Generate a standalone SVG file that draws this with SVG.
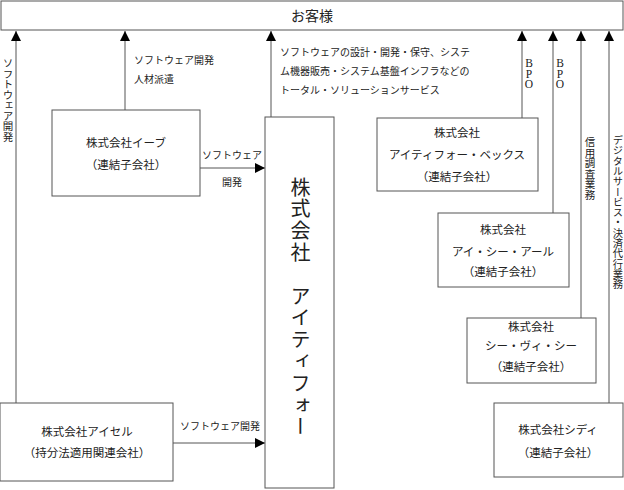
<svg xmlns="http://www.w3.org/2000/svg" width="624" height="490" viewBox="0 0 624 490">
<style>
.box{fill:#fff;stroke:#555;stroke-width:1}
.ln{stroke:#555;stroke-width:1;fill:none}
.t{font-family:"Liberation Serif","Noto Sans CJK JP",serif;fill:#222}
.bt{font-size:11.5px;text-anchor:middle}
.lb{font-size:10px}
.v{writing-mode:vertical-rl}
.bpo{font-size:11.5px;writing-mode:vertical-rl;text-orientation:upright;letter-spacing:-1.5px}
</style>
<defs>
<marker id="ah" markerWidth="10" markerHeight="10" viewBox="0 0 10 10" refX="10" refY="5" orient="auto" markerUnits="userSpaceOnUse">
<path d="M0,0 L10,5 L0,10 Z" fill="#000"/>
</marker>
</defs>
<rect width="624" height="490" fill="#fff"/>
<g id="customer">
<rect class="box" x="1" y="1" width="622" height="29"/>
<text class="t" x="312" y="21" font-size="14" text-anchor="middle">お客様</text>
</g>
<g id="connectors">
<line class="ln" x1="16" y1="403" x2="16" y2="31" marker-end="url(#ah)"/>
<line class="ln" x1="125" y1="110" x2="125" y2="31" marker-end="url(#ah)"/>
<line class="ln" x1="271" y1="117" x2="271" y2="31" marker-end="url(#ah)"/>
<line class="ln" x1="522" y1="118" x2="522" y2="31" marker-end="url(#ah)"/>
<line class="ln" x1="553" y1="213" x2="553" y2="31" marker-end="url(#ah)"/>
<line class="ln" x1="581" y1="318" x2="581" y2="31" marker-end="url(#ah)"/>
<line class="ln" x1="609" y1="403" x2="609" y2="31" marker-end="url(#ah)"/>
<line class="ln" x1="200" y1="168" x2="265" y2="168" marker-end="url(#ah)"/>
<line class="ln" x1="173" y1="443" x2="265" y2="443" marker-end="url(#ah)"/>
<text class="t lb v" x="7" y="58" style="font-size:10.5px">ソフトウェア開発</text>
<text class="t lb" x="134" y="64">ソフトウェア開発</text>
<text class="t lb" x="134" y="83">人材派遣</text>
<text class="t lb" x="280" y="56">ソフトウェアの設計・開発・保守、システ</text>
<text class="t lb" x="280" y="75">ム機器販売・システム基盤インフラなどの</text>
<text class="t lb" x="280" y="94">トータル・ソリューションサービス</text>
<text class="t bpo" x="529" y="57">BPO</text>
<text class="t bpo" x="560" y="57">BPO</text>
<text class="t lb v" x="589" y="137" style="font-size:10.5px">信用調査業務</text>
<text class="t lb v" x="617" y="135" style="font-size:10.3px">デジタルサービス・決済代行業務</text>
<text class="t lb" x="232" y="159" text-anchor="middle">ソフトウェア</text>
<text class="t lb" x="232" y="186" text-anchor="middle">開発</text>
<text class="t lb" x="220" y="430" text-anchor="middle">ソフトウェア開発</text>
</g>
<g id="eve">
<rect class="box" x="52" y="110" width="148" height="86"/>
<text class="t bt" x="126" y="147">株式会社イーブ</text>
<text class="t bt" x="126" y="169">（連結子会社）</text>
</g>
<g id="itfor">
<rect class="box" x="265" y="117" width="69" height="371"/>
<text class="t v" x="299" y="177" font-size="20" letter-spacing="1.8">株式会社　アイティフォー</text>
</g>
<g id="vex">
<rect class="box" x="377" y="118" width="161" height="73"/>
<text class="t bt" x="457" y="137">株式会社</text>
<text class="t bt" x="457" y="159">アイティフォー・ベックス</text>
<text class="t bt" x="457" y="181">（連結子会社）</text>
</g>
<g id="icr">
<rect class="box" x="438" y="213" width="131" height="74"/>
<text class="t bt" x="503" y="234">株式会社</text>
<text class="t bt" x="503" y="256">アイ・シー・アール</text>
<text class="t bt" x="503" y="276">（連結子会社）</text>
</g>
<g id="cvc">
<rect class="box" x="467" y="318" width="129" height="65"/>
<text class="t bt" x="531" y="331">株式会社</text>
<text class="t bt" x="531" y="350">シー・ヴィ・シー</text>
<text class="t bt" x="531" y="371">（連結子会社）</text>
</g>
<g id="citi">
<rect class="box" x="494" y="403" width="129" height="74"/>
<text class="t bt" x="558" y="434">株式会社シディ</text>
<text class="t bt" x="558" y="457">（連結子会社）</text>
</g>
<g id="aisel">
<rect class="box" x="0" y="403" width="173" height="78"/>
<text class="t bt" x="87" y="436">株式会社アイセル</text>
<text class="t bt" x="87" y="457">（持分法適用関連会社）</text>
</g>
</svg>
